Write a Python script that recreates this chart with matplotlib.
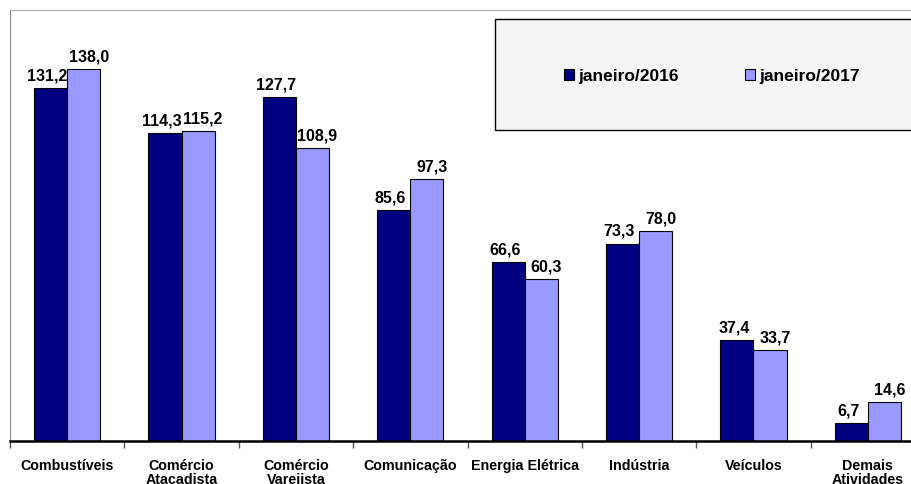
import matplotlib
matplotlib.use("Agg")
import matplotlib.pyplot as plt
from matplotlib.patches import Rectangle
import numpy as np

plt.rcParams['font.family'] = ['Liberation Sans', 'DejaVu Sans']
plt.rcParams['font.weight'] = 'bold'

categorias = ['Combustíveis', 'Comércio\nAtacadista', 'Comércio\nVarejista', 'Comunicação',
              'Energia Elétrica', 'Indústria', 'Veículos', 'Demais\nAtividades']
jan_2016 = [131.2, 114.3, 127.7, 85.6, 66.6, 73.3, 37.4, 6.7]
jan_2017 = [138.0, 115.2, 108.9, 97.3, 60.3, 78.0, 33.7, 14.6]

cor_2016 = '#000080'
cor_2017 = '#9999FF'

W, H = 911, 485
fig = plt.figure(figsize=(W / 100, H / 100), dpi=100)
ax = fig.add_axes([10 / W, 43 / H, 915 / W, 431 / H])

x = np.arange(len(categorias))
w = 0.29
b1 = ax.bar(x - w / 2, jan_2016, w, color=cor_2016, edgecolor='black', linewidth=0.8,
            label='janeiro/2016')
b2 = ax.bar(x + w / 2, jan_2017, w, color=cor_2017, edgecolor='black', linewidth=0.8,
            label='janeiro/2017')

# valores acima das barras, deslocados um pouco para fora do grupo
for barras, dx in ((b1, -2.2), (b2, 3.6)):
    for r, v in zip(barras, barras.datavalues):
        ax.annotate(f'{v:.1f}'.replace('.', ','), (r.get_x() + r.get_width() / 2, v),
                    xytext=(dx, 4), textcoords='offset points', ha='center', va='bottom',
                    fontsize=11.5, fontweight='bold')

ax.set_xlim(-0.5, len(categorias) - 0.5)
ax.set_ylim(0, 160)
ax.set_yticks([])

# rótulos no centro de cada grupo, marcas de divisão entre grupos
ax.set_xticks(np.arange(len(categorias) + 1) - 0.5)
ax.set_xticklabels([])
ax.tick_params(axis='x', which='major', length=5, width=1, color='#555555', direction='out')
ax.set_xticks(x, minor=True)
ax.set_xticklabels(categorias, minor=True, fontsize=10.3, fontweight='bold', linespacing=1.0)
ax.tick_params(axis='x', which='minor', length=0, pad=12)

ax.spines['bottom'].set_linewidth(1.8)
ax.spines['bottom'].set_color('black')
ax.spines['left'].set_color('#888888')
ax.spines['top'].set_color('#aaaaaa')
ax.spines['right'].set_visible(False)

# caixa da legenda
fig.patches.append(Rectangle((495 / W, (H - 131) / H), 430 / W, 111 / H,
                             transform=fig.transFigure, facecolor='#F4F4F4',
                             edgecolor='black', linewidth=1, zorder=3))
leg = fig.legend(handles=[b1, b2], loc='center', bbox_to_anchor=(712 / W, (H - 77) / H),
                 ncol=2, frameon=False, handlelength=0.6, handleheight=0.6,
                 handletextpad=0.25, columnspacing=3.8,
                 prop={'weight': 'bold', 'size': 12.5})
leg.set_zorder(4)

fig.savefig('out.png', dpi=100)
